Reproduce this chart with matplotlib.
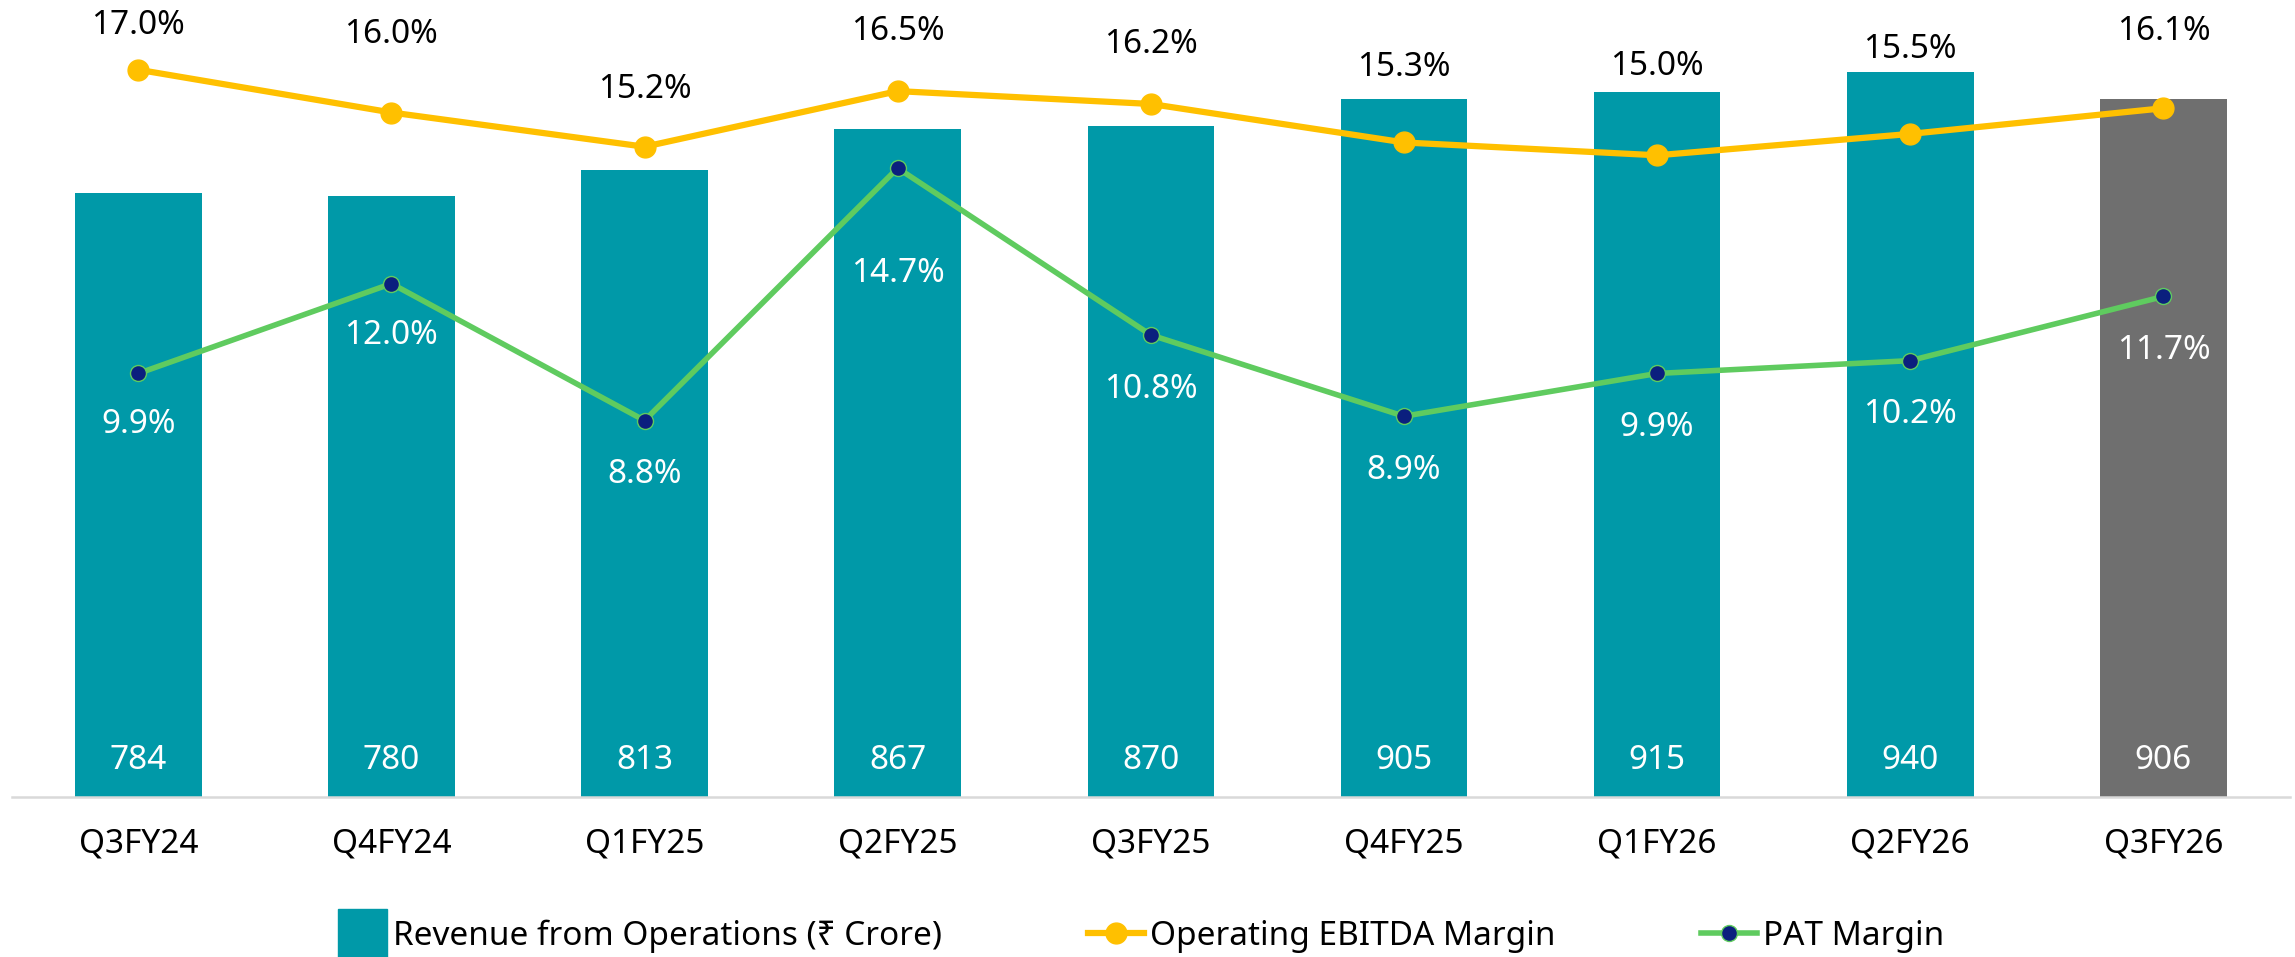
import matplotlib
matplotlib.use("Agg")
import matplotlib.pyplot as plt
from matplotlib.patches import Patch, Rectangle
from matplotlib.lines import Line2D
from matplotlib.legend_handler import HandlerPatch

plt.rcParams['font.family'] = ['Noto Sans', 'DejaVu Sans']

# data
quarters = ['Q3FY24', 'Q4FY24', 'Q1FY25', 'Q2FY25', 'Q3FY25',
            'Q4FY25', 'Q1FY26', 'Q2FY26', 'Q3FY26']
revenue = [784, 780, 813, 867, 870, 905, 915, 940, 906]
ebitda_margin = [17.0, 16.0, 15.2, 16.5, 16.2, 15.3, 15.0, 15.5, 16.1]
pat_margin = [9.9, 12.0, 8.8, 14.7, 10.8, 8.9, 9.9, 10.2, 11.7]

# label offsets (points) as placed in the original
ebitda_offsets = [32, 56, 41, 43, 43, 54, 64, 61, 55]
pat_offsets = [37, 37, 39, 76, 39, 39, 39, 39, 39]

TEAL = '#0099A8'
GREY = '#6F6F6F'
YELLOW = '#FFC000'
GREEN = '#5FCB5F'
NAVY = '#0B1F7E'
FS = 24

fig = plt.figure(figsize=(22.95, 9.57), dpi=100)
ax = fig.add_axes([0.0051, 0.1672, 0.9927, 0.8328])
x = list(range(len(quarters)))
colors = [TEAL] * (len(quarters) - 1) + [GREY]
ax.bar(x, revenue, width=0.5, color=colors, zorder=2)
ax.set_xlim(-0.5, len(quarters) - 0.5)
ax.set_ylim(0, 1034)
for xi, v in zip(x, revenue):
    ax.annotate(f'{v}', (xi, 0), xytext=(0, 26), textcoords='offset points',
                ha='center', va='center', color='white', fontsize=FS)

ax.set_xticks(x)
ax.set_xticklabels(quarters, fontsize=FS)
ax.tick_params(axis='x', length=0, pad=22)
ax.set_yticks([])
for s in ['top', 'right', 'left']:
    ax.spines[s].set_visible(False)
ax.spines['bottom'].set_color('#D9D9D9')
ax.spines['bottom'].set_linewidth(1.8)

ax2 = ax.twinx()
ax2.set_ylim(0, 18.63)
ax2.set_yticks([])
for s in ax2.spines.values():
    s.set_visible(False)
ax2.plot(x, ebitda_margin, color=YELLOW, lw=4.5, marker='o', markersize=15,
         mfc=YELLOW, mec=YELLOW, zorder=3)
ax2.plot(x, pat_margin, color=GREEN, lw=4, marker='o', markersize=11.5,
         mfc=NAVY, mec=GREEN, mew=1, zorder=3)
for xi, v, off in zip(x, ebitda_margin, ebitda_offsets):
    ax2.annotate(f'{v:.1f}%', (xi, v), xytext=(0, off), textcoords='offset points',
                 ha='center', va='center', color='black', fontsize=FS)
for xi, v, off in zip(x, pat_margin, pat_offsets):
    ax2.annotate(f'{v:.1f}%', (xi, v), xytext=(0, -off), textcoords='offset points',
                 ha='center', va='center', color='white', fontsize=FS)


def square_patch(legend, orig_handle, xdescent, ydescent, width, height, fontsize):
    s = 35
    return Rectangle((width - xdescent - s, height / 2 - ydescent - s / 2), s, s)


handles = [
    Patch(color=TEAL, label='Revenue from Operations (₹ Crore)'),
    Line2D([], [], color=YELLOW, lw=4.5, marker='o', markersize=15,
           mfc=YELLOW, mec=YELLOW, label='Operating EBITDA Margin'),
    Line2D([], [], color=GREEN, lw=4, marker='o', markersize=11.5,
           mfc=NAVY, mec=GREEN, label='PAT Margin'),
]
fig.legend(handles=handles, loc='center', bbox_to_anchor=(0.4956, 0.022),
           ncol=3, frameon=False, fontsize=FS, handlelength=1.68,
           handletextpad=0.18, columnspacing=4.38, borderpad=0,
           handler_map={Patch: HandlerPatch(patch_func=square_patch)})

fig.savefig('out.png', dpi=100)
